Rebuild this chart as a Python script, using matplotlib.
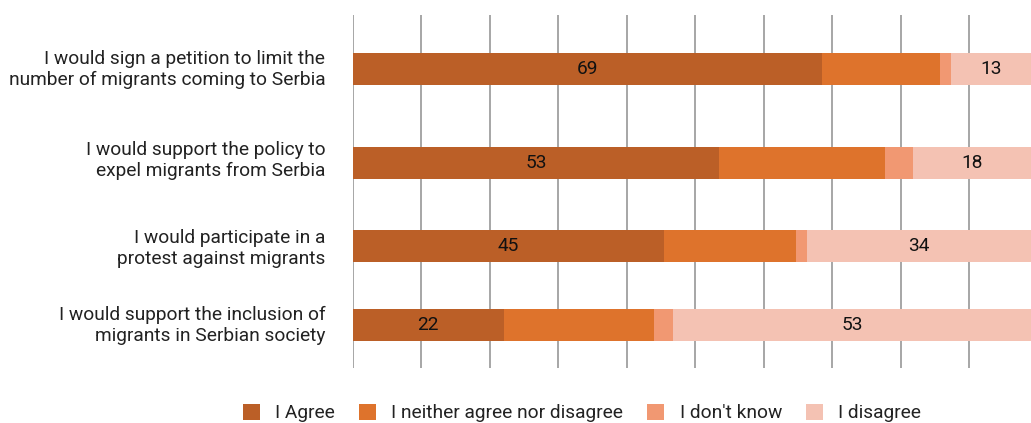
import matplotlib
matplotlib.use("Agg")
import matplotlib.pyplot as plt
import numpy as np

plt.rcParams['font.family'] = ['Roboto', 'DejaVu Sans']

categories = [
    "I would sign a petition to limit the\nnumber of migrants coming to Serbia",
    "I would support the policy to\nexpel migrants from Serbia",
    "I would participate in a\nprotest against migrants",
    "I would support the inclusion of\nmigrants in Serbian society",
]
series_names = ["I Agree", "I neither agree nor disagree", "I don't know", "I disagree"]
agree = [68.6, 53.49, 45.4, 22.0]
neither = [17.1, 24.3, 19.4, 22.0]
dont_know = [1.7, 4.0, 1.6, 2.8]
disagree = [12.6, 18.2, 33.6, 53.2]
colors = ["#BB5F27", "#DE732C", "#F19872", "#F4C2B3"]
labelled = [True, False, False, True]

# layout (pixel rows, top-down)
bar_y = [69, 163, 246, 325]
label_y = [66, 157, 245, 322]
bar_h = 32
FS = 13.8

W, H = 1031, 423
fig = plt.figure(figsize=(W / 100, H / 100), dpi=100)
ax = fig.add_axes([353 / W, (H - 368) / H, (W - 353) / W, (368 - 15) / H])
xmax = (W - 353) / 6.844
ax.set_xlim(0, xmax)
ax.set_ylim(368, 15)

series = [agree, neither, dont_know, disagree]
left = np.zeros(len(categories))
for vals, name, col, lab in zip(series, series_names, colors, labelled):
    vals = np.array(vals)
    bars = ax.barh(bar_y, vals, left=left, height=bar_h, color=col, label=name, zorder=2)
    if lab:
        for b, v in zip(bars, vals):
            x0 = b.get_x()
            x1 = min(x0 + b.get_width(), xmax)
            ax.text((x0 + x1) / 2, b.get_y() + b.get_height() / 2,
                    f"{v:.0f}", ha="center", va="center", fontsize=FS, color="#111111", zorder=3)
    left += vals

ax.set_xticks(np.arange(0, 100, 10))
ax.set_xticklabels([])
ax.grid(axis="x", color="#A6A6A6", linewidth=1.4, zorder=0)
ax.set_axisbelow(True)
ax.set_yticks(label_y)
ax.set_yticklabels(categories, fontsize=FS, color="#222222")
ax.tick_params(axis="both", length=0)
ax.tick_params(axis="y", pad=20)
for s in ax.spines.values():
    s.set_visible(False)

fig.legend(loc="center", bbox_to_anchor=(582 / W, (H - 413) / H), ncol=4, frameon=False,
           fontsize=FS, handlelength=0.89, handleheight=0.89, handletextpad=0.8,
           columnspacing=1.25, labelcolor="#222222")

fig.savefig("out.png", dpi=100)
